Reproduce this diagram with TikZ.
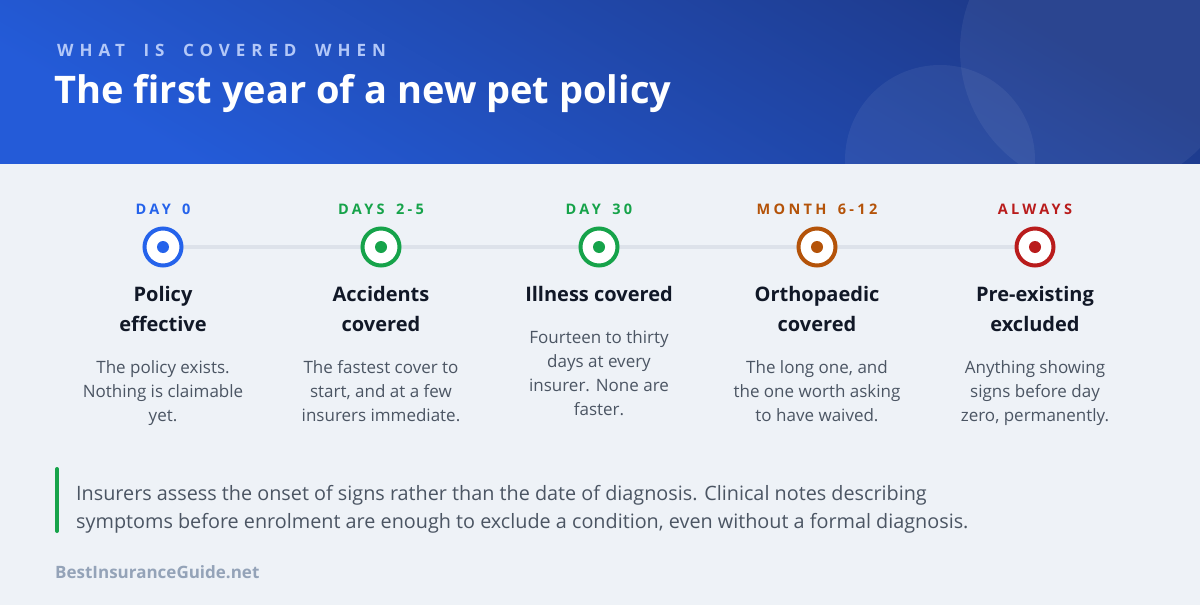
\documentclass[tikz,border=0pt]{standalone}
\usepackage{fontspec}
\setmainfont{Open Sans}
\newfontfamily\capsfont[LetterSpace=23, WordSpace=1.6]{Open Sans}
\newfontfamily\kickerfont[LetterSpace=35, WordSpace=1.8]{Open Sans}
\usetikzlibrary{positioning}
\definecolor{hdrA}{HTML}{2563EB}
\definecolor{hdrB}{HTML}{1E3A8A}
\definecolor{bodybg}{HTML}{EEF2F7}
\definecolor{track}{HTML}{DDE2EA}
\definecolor{dayblue}{HTML}{2563EB}
\definecolor{daygreen}{HTML}{16A34A}
\definecolor{dayorange}{HTML}{B45309}
\definecolor{dayred}{HTML}{B91C1C}
\definecolor{inkdark}{HTML}{111827}
\definecolor{inkgray}{HTML}{4B5563}
\definecolor{inklight}{HTML}{94A3B8}
\tikzset{
  daylabel/.style={anchor=base, inner sep=0, font=\capsfont\bfseries\fontsize{14.5}{17}\selectfont},
  ring/.style={circle, draw=#1, line width=4pt, fill=white, minimum size=37pt, inner sep=0},
  dot/.style={circle, fill=#1, minimum size=12pt, inner sep=0},
  stagetitle/.style={anchor=base, inner sep=0, align=center, text=inkdark, font=\bfseries\fontsize{20}{30}\selectfont},
  stagetext/.style={anchor=base, inner sep=0, align=center, text=inkgray, font=\fontsize{17}{24}\selectfont},
}

\begin{document}
\begin{tikzpicture}[x=1pt, y=-1pt]
	%%%%% BACKGROUND %%%%%
	\fill[bodybg] (0, 0) rectangle (1200, 605);
	\useasboundingbox (0, 0) rectangle (1200, 605);
	
	\shade[left color=hdrA!80!hdrB, right color=hdrB, shading angle=150] (0, 0) rectangle (1200, 163);
	\begin{scope}
		\clip (0, 0) rectangle (1200, 163);
		\fill[white, opacity=0.06] (1100, 50) circle (140);
		\fill[white, opacity=0.06] (940, 160) circle (95);
	\end{scope}
	
	\node[anchor=base west, inner sep=0, text=white!65!hdrA, font=\kickerfont\bfseries\fontsize{17}{20}\selectfont] (kicker) at (57, 56) {WHAT IS COVERED WHEN};
	\node[anchor=base west, inner sep=0, text=white, font=\bfseries\fontsize{38}{44}\selectfont] (title) at (54, 103) {The first year of a new pet policy};
	
	%%%%% TIMELINE %%%%%
	\coordinate (c0) at (163, 247);
	\coordinate (c1) at (381, 247);
	\coordinate (c2) at (599, 247);
	\coordinate (c3) at (817, 247);
	\coordinate (c4) at (1035, 247);
	\draw[track, line width=4pt] (c0) -- (c4);
	
	\node[ring=dayblue] (r0) at (c0) {};
	\node[dot=dayblue] at (r0) {};
	\node[ring=daygreen] (r1) at (c1) {};
	\node[dot=daygreen] at (r1) {};
	\node[ring=daygreen] (r2) at (c2) {};
	\node[dot=daygreen] at (r2) {};
	\node[ring=dayorange] (r3) at (c3) {};
	\node[dot=dayorange] at (r3) {};
	\node[ring=dayred] (r4) at (c4) {};
	\node[dot=dayred] at (r4) {};
	
	\node[daylabel, text=dayblue] (l0) at (163, 214) {DAY 0};
	\node[daylabel, text=daygreen] (l1) at (381, 214) {DAYS 2-5};
	\node[daylabel, text=daygreen] (l2) at (599, 214) {DAY 30};
	\node[daylabel, text=dayorange] (l3) at (817, 214) {MONTH 6-12};
	\node[daylabel, text=dayred] (l4) at (1035, 214) {ALWAYS};
	
	%%%%% STAGES %%%%% (base = last line)
	\node[stagetitle] (t0) at (163, 331) {Policy\\effective};
	\node[stagetitle] (t1) at (381, 331) {Accidents\\covered};
	\node[stagetitle] (t2) at (599, 301) {Illness covered};
	\node[stagetitle] (t3) at (817, 331) {Orthopaedic\\covered};
	\node[stagetitle] (t4) at (1035, 331) {Pre-existing\\excluded};
	
	\node[stagetext] (s0) at (163, 421) {The policy exists.\\Nothing is claimable\\yet.};
	\node[stagetext] (s1) at (381, 421) {The fastest cover to\\start, and at a few\\insurers immediate.};
	\node[stagetext] (s2) at (599, 415) {Fourteen to thirty\\days at every\\insurer. None are\\faster.};
	\node[stagetext] (s3) at (817, 421) {The long one, and\\the one worth asking\\to have waived.};
	\node[stagetext] (s4) at (1035, 421) {Anything showing\\signs before day\\zero, permanently.};
	
	%%%%% NOTE %%%%%
	\draw[daygreen, line width=4pt, line cap=round] (57, 469) -- (57, 531);
	\node[anchor=base west, inner sep=0, align=left, text=inkgray, font=\fontsize{19.8}{28}\selectfont] (note) at (76, 528) {Insurers assess the onset of signs rather than the date of diagnosis. Clinical notes describing\\symptoms before enrolment are enough to exclude a condition, even without a formal diagnosis.};
	
	\node[anchor=base west, inner sep=0, text=inklight, font=\bfseries\fontsize{17}{20}\selectfont] (site) at (55, 578) {BestInsuranceGuide.net};
	
	%%%%% END %%%%%
\end{tikzpicture}
\end{document}
